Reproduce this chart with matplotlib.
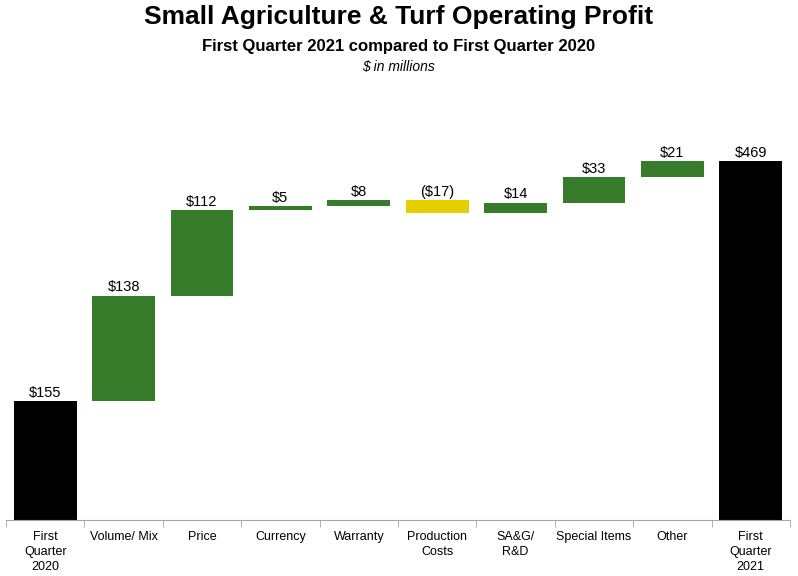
import matplotlib.pyplot as plt
import numpy as np

plt.rcParams['font.family'] = ['Liberation Sans', 'DejaVu Sans']

categories = ["First\nQuarter\n2020", "Volume/ Mix", "Price", "Currency", "Warranty",
              "Production\nCosts", "SA&G/\nR&D", "Special Items", "Other", "First\nQuarter\n2021"]
start_total = 155
changes = [138, 112, 5, 8, -17, 14, 33, 21]
end_total = 469
value_labels = ["$155", "$138", "$112", "$5", "$8", "($17)", "$14", "$33", "$21", "$469"]

green = "#367C2B"
yellow = "#E5CF00"

fig = plt.figure(figsize=(7.98, 5.76), dpi=100)
ax = fig.add_axes([6 / 798, 56 / 576, 784 / 798, 390 / 576])

# bar bottoms and heights for the waterfall
bottoms = [0]
heights = [start_total]
colors = ["black"]
running = start_total
for c in changes:
    bottoms.append(running if c >= 0 else running + c)
    heights.append(abs(c))
    colors.append(green if c >= 0 else yellow)
    running += c
bottoms.append(0)
heights.append(end_total)
colors.append("black")

x = np.arange(len(categories))
ax.bar(x, heights, bottom=bottoms, width=0.8, color=colors)

for xi, b, h, lab in zip(x, bottoms, heights, value_labels):
    ax.text(xi, b + h + 2, lab, ha="center", va="bottom", fontsize=10.5)

ax.set_xlim(-0.5, len(categories) - 0.5)
ax.set_ylim(0, 510)
ax.set_yticks([])
for s in ["top", "right", "left"]:
    ax.spines[s].set_visible(False)
ax.spines["bottom"].set_color("#A6A6A6")

ax.set_xticks(x)
ax.set_xticklabels(categories, fontsize=9, linespacing=1.35, va="top")
ax.tick_params(axis="x", length=0, pad=8)
ax.set_xticks(np.arange(-0.5, len(categories)), minor=True)
ax.tick_params(axis="x", which="minor", length=5, color="#A6A6A6")

fig.text(0.5, 1 - 17 / 576, "Small Agriculture & Turf Operating Profit",
         ha="center", va="center", fontsize=19, fontweight="bold")
fig.text(0.5, 1 - 46 / 576, "First Quarter 2021 compared to First Quarter 2020",
         ha="center", va="center", fontsize=12, fontweight="bold")
fig.text(0.5, 1 - 67 / 576, "$ in millions",
         ha="center", va="center", fontsize=10, style="italic")

fig.savefig("out.png", dpi=100)
